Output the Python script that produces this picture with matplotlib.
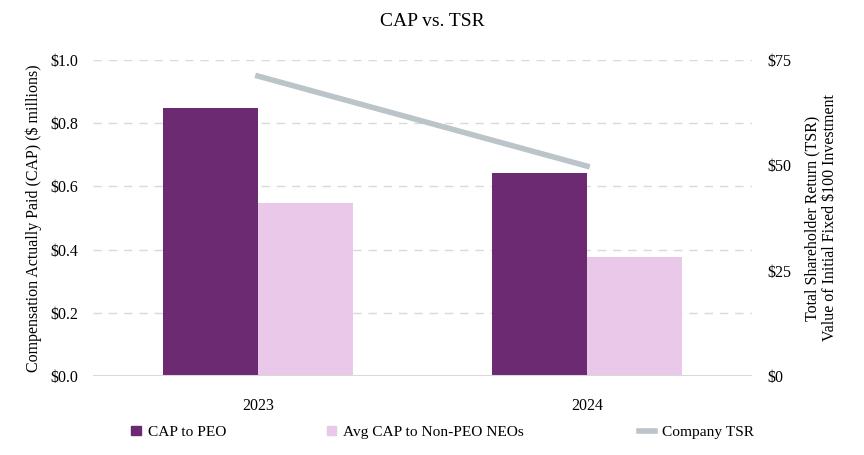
import matplotlib
matplotlib.use("Agg")
import matplotlib.pyplot as plt
from matplotlib.patches import Patch
from matplotlib.lines import Line2D
import numpy as np

plt.rcParams['font.family'] = ['Liberation Serif', 'DejaVu Serif']

years = ["2023", "2024"]
cap_peo = [0.848, 0.642]
cap_neo = [0.547, 0.377]
tsr = [71.2, 49.8]

c_peo = "#6B2A72"
c_neo = "#E9C8EA"
c_tsr = "#BAC4C9"

fs = 11.5

fig = plt.figure(figsize=(8.64, 4.55), dpi=100)
ax = fig.add_axes([0.108, 0.174, 0.762, 0.694])
x = np.arange(len(years))
w = 0.288
ax.bar(x - w/2, cap_peo, w, color=c_peo, zorder=2)
ax.bar(x + w/2, cap_neo, w, color=c_neo, zorder=2)
ax.set_xlim(-0.5, 1.5)
ax.set_ylim(0, 1.0)
ax.set_yticks(np.arange(0, 1.01, 0.2))
ax.set_yticklabels([f"${v:.1f}" for v in np.arange(0, 1.01, 0.2)], fontsize=fs)
ax.set_xticks(x)
ax.set_xticklabels(years, fontsize=fs)
ax.tick_params(axis='y', length=0, pad=11)
ax.tick_params(axis='x', length=0, pad=16)
for v in np.arange(0.2, 1.01, 0.2):
    ax.axhline(v, color="#D9D9D9", lw=1, ls=(0, (6, 5)), zorder=1)
ax.axhline(0, color="#D9D9D9", lw=1.5, zorder=3)
for s in ax.spines.values():
    s.set_visible(False)
ax.set_ylabel("Compensation Actually Paid (CAP) ($ millions)", fontsize=fs, labelpad=6)

ax2 = ax.twinx()
ax2.plot(x, tsr, color=c_tsr, lw=4, zorder=4)
ax2.set_ylim(0, 75)
ax2.set_yticks([0, 25, 50, 75])
ax2.set_yticklabels(["$0", "$25", "$50", "$75"], fontsize=fs)
ax2.tick_params(length=0, pad=11)
for s in ax2.spines.values():
    s.set_visible(False)
ax2.set_ylabel("Total Shareholder Return (TSR)\nValue of Initial Fixed $100 Investment",
               fontsize=fs, labelpad=10, linespacing=1.1)

fig.suptitle("CAP vs. TSR", fontsize=14, y=0.972)

handles = [Patch(color=c_peo), Patch(color=c_neo), Line2D([0], [0], color=c_tsr, lw=4)]
labels = ["CAP to PEO", "Avg CAP to Non-PEO NEOs", "Company TSR"]
xs = [0.152, 0.378, 0.740]
for h, l, xx in zip(handles, labels, xs):
    fig.legend([h], [l], loc='center left', bbox_to_anchor=(xx, 0.05), frameon=False,
               fontsize=11.1, handlelength=0.6 if not isinstance(h, Line2D) else 1.0,
               handleheight=0.6, handletextpad=0.45, borderaxespad=0, borderpad=0)

fig.savefig("out.png", dpi=100)
